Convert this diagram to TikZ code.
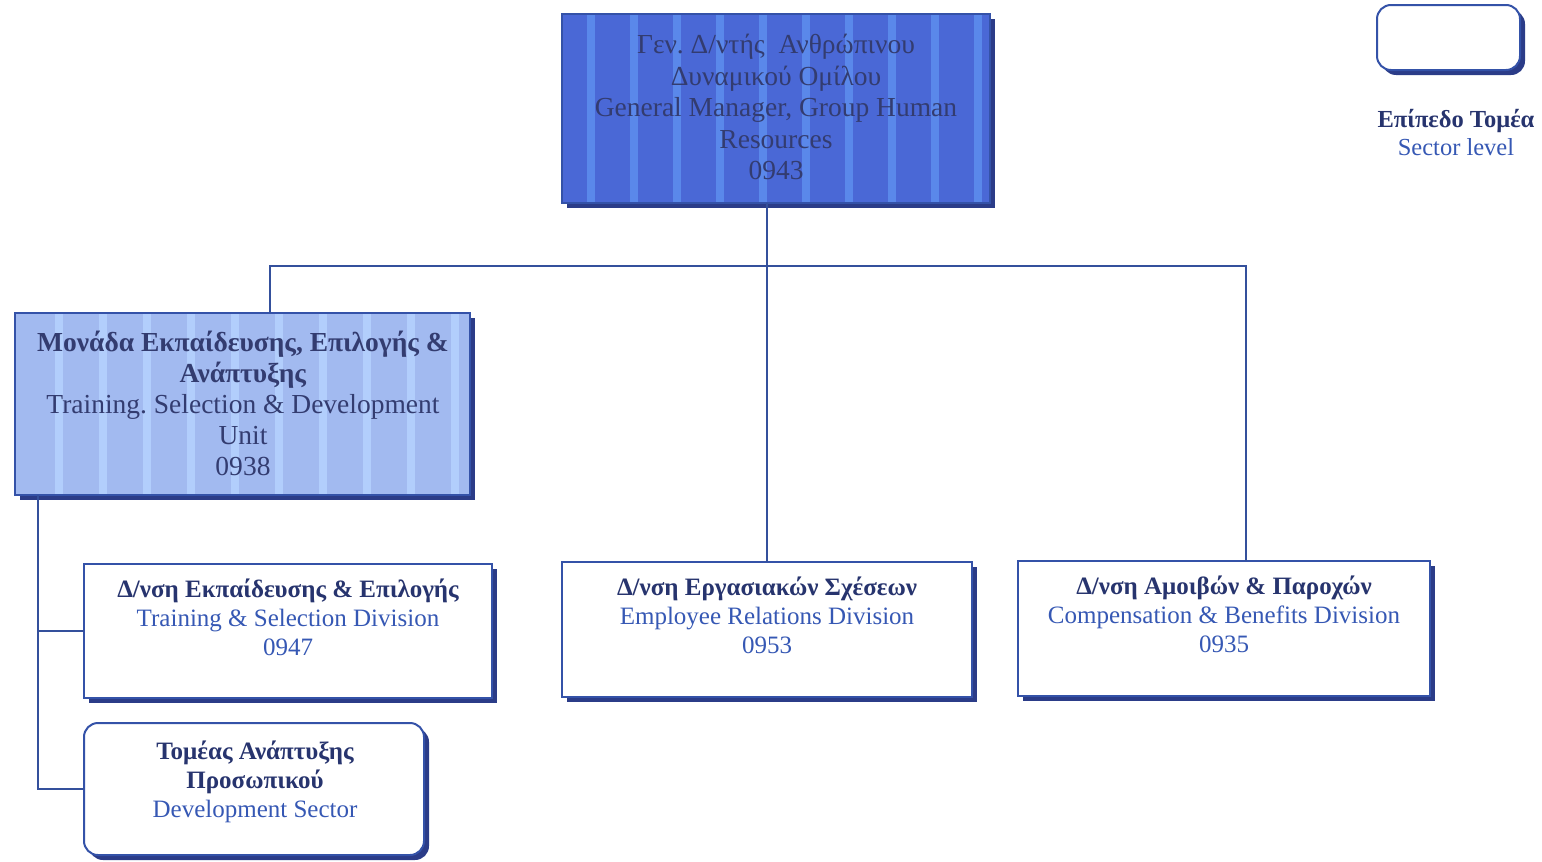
\documentclass[tikz,border=0pt]{standalone}
\usepackage{fontspec}
\setmainfont{Liberation Serif}
\usetikzlibrary{calc,shadows}
\definecolor{topfill}{HTML}{4A68D6}
\definecolor{topstripe}{HTML}{5A88EA}
\definecolor{unitfill}{HTML}{A2BAF0}
\definecolor{unitstripe}{HTML}{B2CEFC}
\definecolor{edgecol}{HTML}{3452A8}
\definecolor{shadecol}{HTML}{2B3C88}
\definecolor{linecol}{HTML}{34509C}
\definecolor{greekcol}{HTML}{27346E}
\definecolor{engcol}{HTML}{3658B4}
\definecolor{darktext}{HTML}{333C70}
\frenchspacing
\tikzset{
  box/.style={draw=edgecol, line width=2pt, inner sep=0pt, outer sep=0pt,
    drop shadow={shadow xshift=5pt, shadow yshift=-5pt, fill=shadecol, opacity=1}},
  plainbox/.style={box, fill=white},
  roundbox/.style={box, fill=white, rounded corners=14pt},
  stripes/.style n args={3}{path picture={
    \foreach \k in {0,...,13}{
      \fill[#1] ($(path picture bounding box.south west)+(#2+\k*#3,20)$) rectangle ++(8,-400);
    }}},
  topbox/.style={box, fill=topfill, stripes={topstripe}{25}{43}},
  unitbox/.style={box, fill=unitfill, stripes={unitstripe}{40}{44}},
  label/.style={align=center, inner sep=0pt},
  conn/.style={draw=linecol, line width=2pt}
}
\newcommand{\gr}[1]{\textbf{\textcolor{greekcol}{#1}}}
\newcommand{\en}[1]{\textcolor{engcol}{#1}}
\begin{document}
\begin{tikzpicture}[x=1pt,y=-1pt]
\useasboundingbox (0,0) rectangle (1542,862);

% boxes
\node[topbox, minimum width=428pt, minimum height=189pt] (top) at (776,108.5) {};
\node[unitbox, minimum width=455pt, minimum height=182pt] (unit) at (242.5,404) {};
\node[plainbox, minimum width=408pt, minimum height=134pt] (div1) at (288,631) {};
\node[plainbox, minimum width=410pt, minimum height=135pt] (div2) at (767,629.5) {};
\node[plainbox, minimum width=412pt, minimum height=135pt] (div3) at (1224,628.5) {};
\node[roundbox, minimum width=340pt, minimum height=132pt] (sector) at (254,789) {};
\node[roundbox, minimum width=143pt, minimum height=65pt] (legend) at (1448.5,37.5) {};

% texts
\node[label, font=\fontsize{27.5}{31.5}\selectfont, text=darktext] (toptxt) at (776,107)
  {Γεν. Δ/ντής\ \ Ανθρώπινου\\ Δυναμικού Ομίλου\\ General Manager, Group Human\\ Resources\\ 0943};
\node[label, font=\fontsize{27.5}{31}\selectfont, text=darktext] (unittxt) at (243,403)
  {\textbf{Μονάδα Εκπαίδευσης, Επιλογής \&}\\ \textbf{Ανάπτυξης}\\ Training. Selection \& Development\\ Unit\\ 0938};
\node[label, font=\fontsize{25}{29}\selectfont] (div1txt) at (288,617)
  {\gr{Δ/νση Εκπαίδευσης \& Επιλογής}\\ \en{Training \& Selection Division}\\ \en{0947}};
\node[label, font=\fontsize{25}{29}\selectfont] (div2txt) at (767,615)
  {\gr{Δ/νση Εργασιακών Σχέσεων}\\ \en{Employee Relations Division}\\ \en{0953}};
\node[label, font=\fontsize{25}{29}\selectfont] (div3txt) at (1224,614)
  {\gr{Δ/νση Αμοιβών \& Παροχών}\\ \en{Compensation \& Benefits Division}\\ \en{0935}};
\node[label, font=\fontsize{25}{29}\selectfont] (sectortxt) at (255,782)
  {\gr{Τομέας Ανάπτυξης}\\ \gr{Προσωπικού}\\ \en{Development Sector}};
\node[label, font=\fontsize{24.5}{28}\selectfont] (legendtxt) at (1456,133)
  {\gr{Επίπεδο Τομέα}\\ \en{Sector level}};

% connectors
\coordinate (busL) at (270,266);
\coordinate (busR) at (1246,266);
\coordinate (spineTop) at (38,495);
\coordinate (spineBot) at (38,789);
\draw[conn] (div2.north) -- (div2.north |- top.south);
\draw[conn] (busL |- unit.north) -- (busL) -- (busR) -- (busR |- div3.north);
\draw[conn] (spineTop) -- (spineBot) -- (sector.west);
\draw[conn] (spineTop |- div1.west) -- (div1.west);
\end{tikzpicture}
\end{document}
